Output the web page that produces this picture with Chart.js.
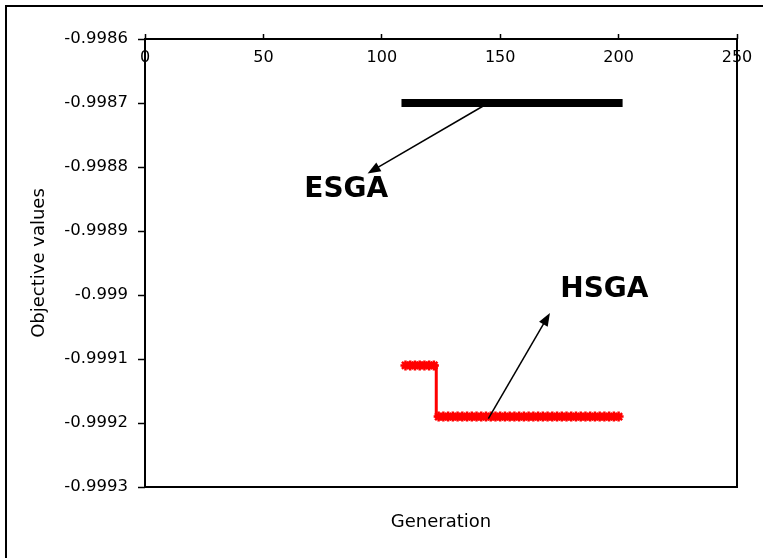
<!DOCTYPE html>
<html>
<head>
<meta charset="utf-8">
<script src="https://cdn.jsdelivr.net/npm/chart.js@4"></script>
<style>
  html, body { margin: 0; padding: 0; background: #fff; }
  canvas { display: block; }
</style>
</head>
<body>
<canvas id="chart" width="763" height="558"></canvas>
<script>
// Generations sampled along both runs
const generations = [110, 112, 114, 116, 118, 120, 122, 124, 126, 128, 130, 132, 134, 136, 138, 140,
  142, 144, 146, 148, 150, 152, 154, 156, 158, 160, 162, 164, 166, 168, 170, 172, 174, 176, 178, 180,
  182, 184, 186, 188, 190, 192, 194, 196, 198, 200];

// Best objective value per generation, ESGA
const esgaValues = [-0.9987, -0.9987, -0.9987, -0.9987, -0.9987, -0.9987, -0.9987, -0.9987, -0.9987,
  -0.9987, -0.9987, -0.9987, -0.9987, -0.9987, -0.9987, -0.9987, -0.9987, -0.9987, -0.9987, -0.9987,
  -0.9987, -0.9987, -0.9987, -0.9987, -0.9987, -0.9987, -0.9987, -0.9987, -0.9987, -0.9987, -0.9987,
  -0.9987, -0.9987, -0.9987, -0.9987, -0.9987, -0.9987, -0.9987, -0.9987, -0.9987, -0.9987, -0.9987,
  -0.9987, -0.9987, -0.9987, -0.9987];

// Best objective value per generation, HSGA
const hsgaValues = [-0.99911, -0.99911, -0.99911, -0.99911, -0.99911, -0.99911, -0.99911,
  -0.99919, -0.99919, -0.99919, -0.99919, -0.99919, -0.99919, -0.99919, -0.99919, -0.99919,
  -0.99919, -0.99919, -0.99919, -0.99919, -0.99919, -0.99919, -0.99919, -0.99919, -0.99919,
  -0.99919, -0.99919, -0.99919, -0.99919, -0.99919, -0.99919, -0.99919, -0.99919, -0.99919,
  -0.99919, -0.99919, -0.99919, -0.99919, -0.99919, -0.99919, -0.99919, -0.99919, -0.99919,
  -0.99919, -0.99919, -0.99919];

// Axis ticks
const xTickValues = [0, 50, 100, 150, 200, 250];
const yTickValues = [-0.9986, -0.9987, -0.9988, -0.9989, -0.999, -0.9991, -0.9992, -0.9993];
const yTickLabels = ['-0.9986', '-0.9987', '-0.9988', '-0.9989', '-0.999', '-0.9991', '-0.9992', '-0.9993'];

// Callout labels with arrows (in data units: generation, objective value)
const callouts = [
  { text: 'ESGA', label: [85, -0.998835], from: [145, -0.99870], to: [94, -0.99881] },
  { text: 'HSGA', label: [194, -0.998991], from: [145, -0.999193], to: [171, -0.999028] }
];

const FONT = "'DejaVu Sans', sans-serif";

const frameAndCallouts = {
  id: 'frameAndCallouts',
  beforeDraw(chart) {
    const ctx = chart.ctx;
    ctx.save();
    ctx.fillStyle = '#fff';
    ctx.fillRect(0, 0, chart.width, chart.height);
    ctx.strokeStyle = '#000';
    ctx.lineWidth = 2;
    ctx.strokeRect(6, 6, chart.width + 20, chart.height + 20);
    ctx.restore();
  },
  afterDraw(chart) {
    const ctx = chart.ctx;
    const a = chart.chartArea;
    const xs = chart.scales.x, ys = chart.scales.y;
    ctx.save();
    ctx.strokeStyle = '#000';
    ctx.lineWidth = 2;
    ctx.strokeRect(a.left, a.top, a.right - a.left, a.bottom - a.top);

    callouts.forEach(c => {
      const x1 = xs.getPixelForValue(c.from[0]), y1 = ys.getPixelForValue(c.from[1]);
      const x2 = xs.getPixelForValue(c.to[0]), y2 = ys.getPixelForValue(c.to[1]);
      const ang = Math.atan2(y2 - y1, x2 - x1);
      const head = 13, half = 5;
      ctx.lineWidth = 1.5;
      ctx.beginPath();
      ctx.moveTo(x1, y1);
      ctx.lineTo(x2 - Math.cos(ang) * head * 0.8, y2 - Math.sin(ang) * head * 0.8);
      ctx.stroke();
      ctx.fillStyle = '#000';
      ctx.beginPath();
      ctx.moveTo(x2, y2);
      ctx.lineTo(x2 - Math.cos(ang) * head - Math.sin(ang) * half, y2 - Math.sin(ang) * head + Math.cos(ang) * half);
      ctx.lineTo(x2 - Math.cos(ang) * head + Math.sin(ang) * half, y2 - Math.sin(ang) * head - Math.cos(ang) * half);
      ctx.closePath();
      ctx.fill();

      ctx.font = "bold 28px " + FONT;
      ctx.textAlign = 'center';
      ctx.textBaseline = 'middle';
      ctx.fillText(c.text, xs.getPixelForValue(c.label[0]), ys.getPixelForValue(c.label[1]));
    });
    ctx.restore();
  }
};

new Chart(document.getElementById('chart'), {
  type: 'line',
  data: {
    datasets: [
      {
        label: 'ESGA',
        data: generations.map((g, i) => ({ x: g, y: esgaValues[i] })),
        borderColor: '#000',
        borderWidth: 8,
        borderCapStyle: 'square',
        pointRadius: 0,
        fill: false
      },
      {
        label: 'HSGA',
        data: generations.map((g, i) => ({ x: g, y: hsgaValues[i] })),
        borderColor: '#ff0000',
        backgroundColor: '#ff0000',
        borderWidth: 3,
        stepped: 'middle',
        pointStyle: 'star',
        pointRadius: 5,
        pointBorderWidth: 2.5,
        pointBorderColor: '#ff0000',
        fill: false
      }
    ]
  },
  options: {
    responsive: false,
    devicePixelRatio: 1,
    animation: false,
    layout: { padding: { left: 29, right: 26, top: 30, bottom: 25 } },
    plugins: {
      legend: { display: false },
      tooltip: { enabled: false }
    },
    scales: {
      x: {
        type: 'linear',
        position: 'top',
        min: 0,
        max: 250,
        afterBuildTicks: s => { s.ticks = xTickValues.map(v => ({ value: v })); },
        afterFit: s => { s.height = 9; },
        grid: { drawOnChartArea: false, tickLength: 5, color: '#000', tickWidth: 1.5 },
        border: { display: false },
        ticks: {
          mirror: true,
          padding: 9,
          color: '#000',
          font: { family: FONT, size: 16 },
          maxRotation: 0,
          callback: v => String(v)
        }
      },
      xBottom: {
        type: 'linear',
        axis: 'x',
        position: 'bottom',
        min: 0,
        max: 1,
        afterFit: s => { s.height = 46; },
        grid: { display: false },
        border: { display: false },
        ticks: { display: false },
        title: {
          display: true,
          text: 'Generation',
          color: '#000',
          padding: { top: 0, bottom: 0 },
          font: { family: FONT, size: 18 }
        }
      },
      y: {
        type: 'linear',
        position: 'left',
        min: -0.9993,
        max: -0.9986,
        afterBuildTicks: s => { s.ticks = yTickValues.map(v => ({ value: v })); },
        afterFit: s => { s.width = 116; },
        grid: { drawOnChartArea: false, tickLength: 7, color: '#000', tickWidth: 1.5 },
        border: { display: false },
        ticks: {
          padding: 10,
          color: '#000',
          font: { family: FONT, size: 16.5 },
          callback: (v, i) => yTickLabels[i]
        },
        title: {
          display: true,
          text: 'Objective values',
          color: '#000',
          padding: { top: 0, bottom: 0 },
          font: { family: FONT, size: 18 }
        }
      }
    }
  },
  plugins: [frameAndCallouts]
});
</script>
</body>
</html>
